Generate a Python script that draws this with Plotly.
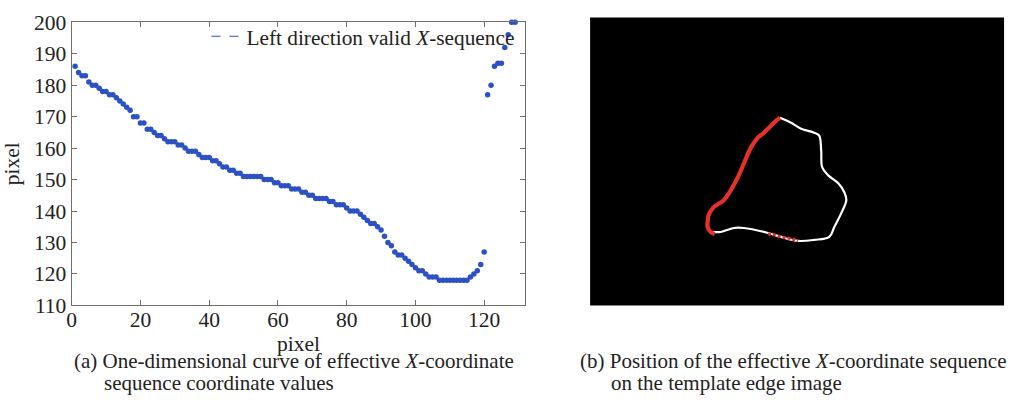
import plotly.graph_objects as go

# ---------------- data: panel (a) ----------------
x_values = [186, 184, 183, 183, 181, 180, 180, 179, 178, 178,
            177, 177, 176, 175, 174, 173, 172, 170, 170, 168,
            168, 166, 166, 165, 164, 164, 163, 162, 162, 162,
            161, 161, 160, 159, 159, 159, 158, 157, 157, 157,
            156, 156, 155, 154, 154, 153, 153, 152, 152, 151,
            151, 151, 151, 151, 151, 150, 150, 150, 149, 149,
            148, 148, 148, 147, 147, 147, 146, 146, 145, 145,
            144, 144, 144, 144, 143, 143, 142, 142, 142, 141,
            140, 140, 140, 139, 138, 137, 136, 136, 135, 134,
            132, 130, 129, 127, 126, 126, 125, 124, 123, 122,
            121, 121, 120, 119, 119, 119, 118, 118, 118, 118,
            118, 118, 118, 118, 118, 119, 120, 121, 123, 127,
            177, 180, 186, 187, 187, 192, 196, 200, 200]
seq_index = list(range(1, len(x_values) + 1))

x_ticks = [0, 20, 40, 60, 80, 100, 120]
y_ticks = [110, 120, 130, 140, 150, 160, 170, 180, 190, 200]

# ---------------- data: panel (b) (template edge image coords) ----------------
white_x = [189, 200, 210, 223, 228, 230, 231, 237, 247, 253, 255, 250, 243, 238,
           223, 207, 190, 177, 153, 143, 130, 122]
white_y = [101, 106, 112, 116, 119, 134, 151, 159, 167, 176, 184, 197, 211, 221,
           224, 225, 221, 217, 212, 212, 216, 216]
red_x = [124, 120, 117, 117, 118, 123, 133, 140, 147, 153, 160, 167, 173, 180, 185, 189]
red_y = [218, 216, 211, 205, 199, 191, 184, 174, 161, 147, 131, 121, 116, 109, 104, 101]
red_bottom_x = [177, 184, 190, 196, 201, 207]
red_bottom_y = [218, 219, 221, 222, 223, 225]

IMG_W, IMG_H = 412, 290

BLUE = "#2b51c2"
RED = "#e8302a"
FONT = "Liberation Serif, Times New Roman, serif"
FS_TICK = 21.5
FS_CAP = 21
W, H = 1018, 404


def px(X):
    return X / W


def py(Y):
    return 1 - Y / H


fig = go.Figure()

fig.add_trace(go.Scatter(
    x=seq_index, y=x_values, mode="markers",
    marker=dict(color=BLUE, size=5.5, symbol="circle"),
    showlegend=False, cliponaxis=False, xaxis="x", yaxis="y"))
fig.add_trace(go.Scatter(
    x=[None], y=[None], mode="lines",
    line=dict(color=BLUE, dash="dash", width=1),
    name="Left direction valid <i>X</i>-sequence", xaxis="x", yaxis="y"))

fig.add_trace(go.Scatter(
    x=white_x, y=white_y, mode="lines",
    line=dict(color="white", width=2.2, shape="spline"),
    showlegend=False, xaxis="x2", yaxis="y2"))
fig.add_trace(go.Scatter(
    x=red_x, y=red_y, mode="lines",
    line=dict(color=RED, width=4.2, shape="spline"),
    showlegend=False, xaxis="x2", yaxis="y2"))
fig.add_trace(go.Scatter(
    x=red_bottom_x, y=red_bottom_y, mode="lines",
    line=dict(color=RED, width=3, dash="3px,2px"),
    showlegend=False, xaxis="x2", yaxis="y2"))

axis_common = dict(
    showline=True, linecolor="#6e6e6e", linewidth=1, mirror="allticks",
    ticks="inside", ticklen=5, tickcolor="#6e6e6e", showgrid=False, zeroline=False,
    tickfont=dict(family=FONT, size=FS_TICK, color="#222"))

fig.update_layout(
    width=W, height=H, margin=dict(l=0, r=0, t=0, b=0),
    paper_bgcolor="white", plot_bgcolor="white",
    font=dict(family=FONT, size=FS_TICK, color="#222"),
    xaxis=dict(domain=[px(67), px(523)], range=[0, 132], tickvals=x_ticks,
               ticklabelstandoff=-5,
               title=dict(text="pixel", font=dict(family=FONT, size=FS_TICK), standoff=0),
               anchor="y", **axis_common),
    yaxis=dict(domain=[py(313), py(12)], range=[110, 200], tickvals=y_ticks,
               title=dict(text="pixel", font=dict(family=FONT, size=FS_TICK), standoff=10),
               anchor="x", **axis_common),
    xaxis2=dict(domain=[px(588), px(1004)], range=[0, IMG_W], visible=False, anchor="y2"),
    yaxis2=dict(domain=[py(313), py(7)], range=[IMG_H, 0], visible=False, anchor="x2"),
    legend=dict(x=px(517), xanchor="right", y=py(27), yanchor="middle",
                bgcolor="rgba(0,0,0,0)", itemwidth=30,
                font=dict(family=FONT, size=21.3, color="#222")),
    shapes=[dict(type="rect", xref="x2 domain", yref="y2 domain", x0=0, x1=1, y0=0, y1=1,
                 fillcolor="black", line=dict(width=0), layer="below")],
    annotations=[
        dict(text="(a) One-dimensional curve of effective <i>X</i>-coordinate",
             x=px(67), y=py(372), xref="paper", yref="paper",
             xanchor="left", yanchor="middle", showarrow=False,
             font=dict(family=FONT, size=FS_CAP, color="#222")),
        dict(text="sequence coordinate values",
             x=px(97), y=py(396), xref="paper", yref="paper",
             xanchor="left", yanchor="middle", showarrow=False,
             font=dict(family=FONT, size=FS_CAP, color="#222")),
        dict(text="(b) Position of the effective <i>X</i>-coordinate sequence",
             x=px(576), y=py(372), xref="paper", yref="paper",
             xanchor="left", yanchor="middle", showarrow=False,
             font=dict(family=FONT, size=FS_CAP, color="#222")),
        dict(text="on the template edge image",
             x=px(607), y=py(396), xref="paper", yref="paper",
             xanchor="left", yanchor="middle", showarrow=False,
             font=dict(family=FONT, size=FS_CAP, color="#222")),
    ],
)

fig.write_html("out.html")
